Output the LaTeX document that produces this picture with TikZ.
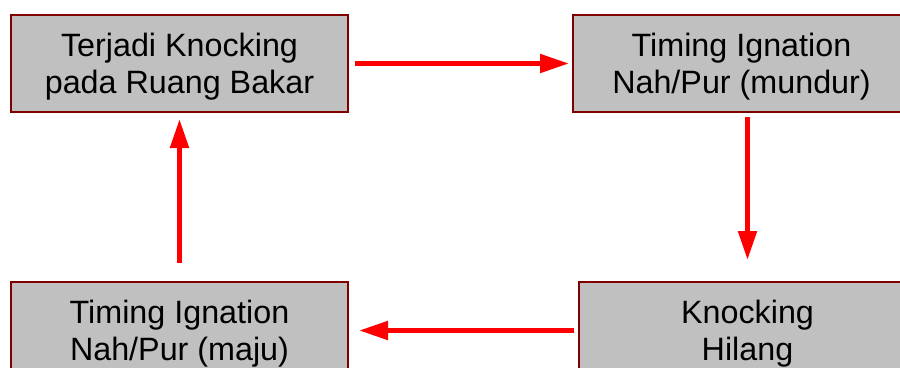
\documentclass[tikz,border=0pt]{standalone}
\usepackage{fontspec}
\setmainfont{Liberation Sans}
\usepackage{tikz}
\usetikzlibrary{arrows.meta,positioning}

\definecolor{boxfill}{HTML}{C0C0C0}
\definecolor{boxline}{HTML}{800000}
\definecolor{flowred}{HTML}{FF0000}

\begin{document}
\begin{tikzpicture}[
  x=1pt, y=-1pt,
  stepbox/.style={draw=boxline, line width=2pt, fill=boxfill, align=center,
                  minimum width=337pt, minimum height=97pt, inner sep=0pt,
                  text depth=0pt, font=\fontsize{32.3}{37}\selectfont},
  flow/.style={draw=flowred, line width=5pt,
               -{Triangle[length=29pt, width=18pt]}}
]
\useasboundingbox (0,0) rectangle (900,367);
\clip (0,0) rectangle (900,367);

% the four states of the loop
\node[stepbox] (tl) at (179.5,63.5) {Terjadi Knocking\\pada Ruang Bakar};
\node[stepbox, right=223pt of tl] (tr) {Timing Ignation\\Nah/Pur (mundur)};
\node[stepbox, below=168pt of tl] (bl) {Timing Ignation\\Nah/Pur (maju)};
\node[stepbox, right=229pt of bl] (br) {Knocking\\Hilang};

% clockwise arrows
\draw[flow, shorten <=6pt, shorten >=3pt] (tl.east) -- (tr.west);
\draw[flow, shorten <=4pt, shorten >=21pt] (br.north |- tr.south) -- (br.north);
\draw[flow, shorten <=4pt, shorten >=10pt] (br.west) -- (bl.east);
\draw[flow, shorten <=18pt, shorten >=6pt] (bl.north) -- (tl.south);
\end{tikzpicture}
\end{document}
